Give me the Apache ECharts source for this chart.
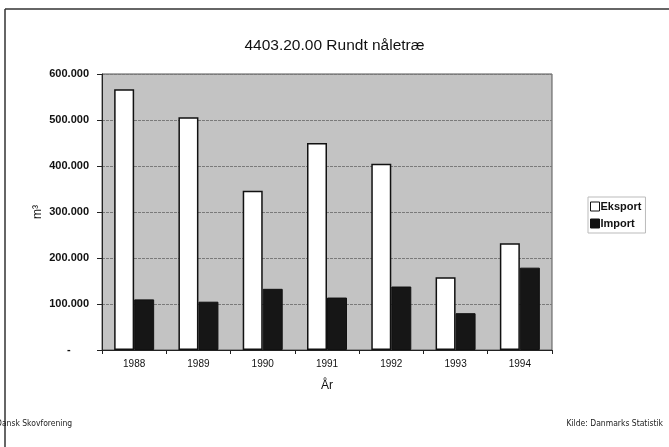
<!DOCTYPE html>
<html>
<head>
<meta charset="utf-8">
<script src="https://cdn.jsdelivr.net/npm/echarts@6/dist/echarts.min.js"></script>
<style>
  html, body { margin: 0; padding: 0; background: #fff; }
  #chart { width: 669px; height: 447px; }
</style>
</head>
<body>
<div id="chart"></div>
<script>
const years = ['1988', '1989', '1990', '1991', '1992', '1993', '1994'];
const eksport = [567000, 506000, 346000, 450000, 405000, 158000, 232000];
const importData = [110000, 105000, 133000, 114000, 138000, 80000, 179000];
const yTicks = [0, 100000, 200000, 300000, 400000, 500000, 600000];

const chart = echarts.init(document.getElementById('chart'));

function fmtThousands(v) {
    if (v === 0) return '-      ';
    return String(v).replace(/\B(?=(\d{3})+(?!\d))/g, '.');
}

const option = {
    animation: false,
    backgroundColor: '#fff',
    title: {
        text: '4403.20.00 Rundt nåletræ',
        left: 'center',
        top: 33,
        textStyle: { fontFamily: 'Liberation Sans', fontSize: 15.5, fontWeight: 'normal', color: '#111' }
    },
    legend: {
        orient: 'vertical',
        left: 588,
        top: 197,
        itemWidth: 9,
        itemHeight: 9,
        itemGap: 6,
        padding: [4, 4, 4, 2],
        borderColor: '#bbb',
        borderWidth: 1,
        textStyle: { fontFamily: 'Liberation Sans', fontSize: 11, fontWeight: 'bold', color: '#111', padding: [0, 0, 0, -4] },
        data: [
            { name: 'Eksport', icon: 'rect', itemStyle: { color: '#fff', borderColor: '#111', borderWidth: 1 } },
            { name: 'Import', icon: 'rect', itemStyle: { color: '#111', borderColor: '#111', borderWidth: 1 } }
        ]
    },
    grid: { left: 102, right: 117, top: 74, bottom: 97, show: true, backgroundColor: '#c3c3c3', borderColor: '#555', borderWidth: 1 },
    xAxis: {
        type: 'category',
        data: years,
        name: 'År',
        nameLocation: 'middle',
        nameGap: 30,
        nameTextStyle: { fontFamily: 'Liberation Sans', fontSize: 12, color: '#111' },
        axisLine: { lineStyle: { color: '#222', width: 1 } },
        axisTick: { show: true, length: 4, inside: false, lineStyle: { color: '#222' } },
        axisLabel: { fontFamily: 'Liberation Sans', fontSize: 10, color: '#111', margin: 9 }
    },
    yAxis: {
        type: 'value',
        min: yTicks[0],
        max: yTicks[yTicks.length - 1],
        interval: 100000,
        name: 'm³',
        nameLocation: 'middle',
        nameGap: 58,
        nameMoveOverlap: false,
        nameRotate: 90,
        nameTextStyle: { fontFamily: 'Liberation Sans', fontSize: 12, color: '#111' },
        axisLine: { show: true, lineStyle: { color: '#222', width: 1 } },
        axisTick: { show: true, length: 5, lineStyle: { color: '#222' } },
        axisLabel: { fontFamily: 'Liberation Sans', fontSize: 11, fontWeight: 'bold', color: '#111', margin: 13, formatter: fmtThousands },
        splitLine: { show: true, lineStyle: { color: '#7a7a7a', width: 1, type: [3, 1] } }
    },
    series: [
        {
            name: 'Eksport',
            type: 'bar',
            data: eksport,
            barWidth: 20,
            barGap: '0%',
            itemStyle: { color: '#fff', borderColor: '#111', borderWidth: 1.5 }
        },
        {
            name: 'Import',
            type: 'bar',
            data: importData,
            barWidth: 20,
            barGap: '0%',
            itemStyle: { color: '#161616', borderColor: '#111', borderWidth: 1 }
        }
    ],
    graphic: [
        { type: 'line', shape: { x1: 5, y1: 9, x2: 669, y2: 9 }, style: { stroke: '#333', lineWidth: 1.5 } },
        { type: 'line', shape: { x1: 5, y1: 9, x2: 5, y2: 447 }, style: { stroke: '#333', lineWidth: 1.5 } },
        { type: 'text', left: -4, top: 419, style: { text: 'Dansk Skovforening', fontFamily: 'DejaVu Sans Condensed', fontSize: 8.5, fill: '#222' } },
        { type: 'text', right: 6, top: 419, style: { text: 'Kilde: Danmarks Statistik', fontFamily: 'DejaVu Sans Condensed', fontSize: 8.5, fill: '#222' } }
    ]
};

chart.setOption(option);
</script>
</body>
</html>
